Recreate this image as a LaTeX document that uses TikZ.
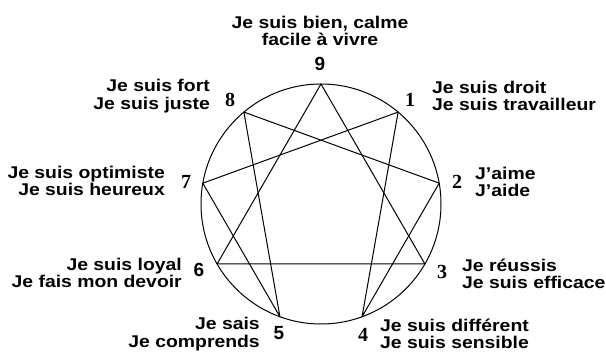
\documentclass[tikz,border=0pt]{standalone}
\usepackage{fontspec}
\setmainfont{Liberation Sans}[FakeStretch=1.14]
\newfontfamily\numserif{Liberation Serif}
\newfontfamily\numsans{Liberation Sans}
\usetikzlibrary{calc}
\begin{document}
\begin{tikzpicture}[x=1pt,y=-1pt,
  lab/.style={font=\fontsize{17}{17.5}\selectfont\bfseries, inner sep=0pt},
  nums/.style={font=\fontsize{19}{19}\selectfont\numsans\bfseries, inner sep=0pt},
  numr/.style={font=\fontsize{20}{20}\selectfont\numserif\bfseries, inner sep=0pt},
  edge/.style={line width=1pt, line join=round}]
\useasboundingbox (0,0) rectangle (606,352);
\fill[white] (0,0) rectangle (606,352);
\coordinate (c) at (321,204);
\foreach \i in {0,...,8} {
  \coordinate (p\i) at ($(c)+({40*\i-90}:120)$);
}
\draw[edge] (c) circle[radius=120];
\draw[edge] (p0) -- (p3) -- (p6) -- cycle;
\draw[edge] (p1) -- (p4) -- (p2) -- (p8) -- (p5) -- (p7) -- cycle;
% numbers
\node[nums] (n9) at (320,64) {9};
\node[numr] (n8) at (230,100) {8};
\node[numr] (n1) at (410,100) {1};
\node[numr] (n7) at (186,182) {7};
\node[numr] (n2) at (457,182) {2};
\node[nums] (n6) at (199,270) {6};
\node[numr] (n3) at (442,272) {3};
\node[nums] (n5) at (279,333) {5};
\node[numr] (n4) at (363,335) {4};
% labels
\node[lab, align=center] (l9) at (320,31) {Je suis bien, calme\\facile à vivre};
\node[lab, align=right, anchor=east] (l8) at (210,96) {Je suis fort\\Je suis juste};
\node[lab, align=left, anchor=west] (l1) at (432,96) {Je suis droit\\Je suis travailleur};
\node[lab, align=right, anchor=east] (l7) at (165,181) {Je suis optimiste\\Je suis heureux};
\node[lab, align=left, anchor=west] (l2) at (475,182) {J'aime\\J'aide};
\node[lab, align=right, anchor=east] (l6) at (182,273) {Je suis loyal\\Je fais mon devoir};
\node[lab, align=left, anchor=west] (l3) at (462,274) {Je réussis\\Je suis efficace};
\node[lab, align=right, anchor=east] (l5) at (260,334) {Je sais\\Je comprends};
\node[lab, align=left, anchor=west] (l4) at (380,334) {Je suis différent\\Je suis sensible};
\end{tikzpicture}
\end{document}
